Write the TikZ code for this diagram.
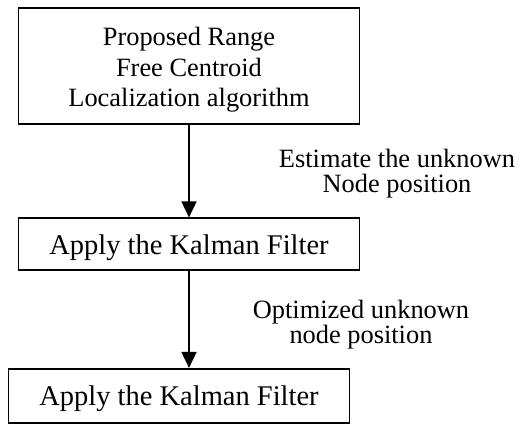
\documentclass[tikz,border=0pt]{standalone}
\usepackage{fontspec}
\setmainfont{Liberation Serif}
\usetikzlibrary{arrows.meta}
\begin{document}
\begin{tikzpicture}[x=1pt, y=-1pt,
	box/.style = {draw, line width=1.8pt, minimum width=341pt, inner sep=0pt, align=center, font=\fontsize{26.4}{30.5}\selectfont},
	step box/.style = {box, font=\fontsize{28.5}{30.5}\selectfont, text height=26pt, text depth=6pt},
	note/.style = {align=center, inner sep=0pt, font=\fontsize{26.4}{25}\selectfont},
	flow/.style = {line width=1.8pt, -{Triangle[width=15pt, length=16pt]}}]
	\useasboundingbox (0,0) rectangle (522,425);
	\node[box, minimum height=116pt] (algo) at (189,66) {\rule{0pt}{26pt}Proposed Range\\Free Centroid\\Localization algorithm};
	\node[step box, minimum height=52pt] (kf1) at (189,244.3) {Apply the Kalman Filter};
	\node[step box, minimum height=54pt] (kf2) at (179,395.8) {Apply the Kalman Filter};
	\draw[flow] (algo.south) -- (algo.south |- kf1.north);
	\draw[flow] (kf1.south) -- (kf1.south |- kf2.north);
	\node[note] (est) at (397,173.4) {Estimate the unknown\\Node position};
	\node[note] (opt) at (361,324.2) {Optimized unknown\\node position};
\end{tikzpicture}
\end{document}
